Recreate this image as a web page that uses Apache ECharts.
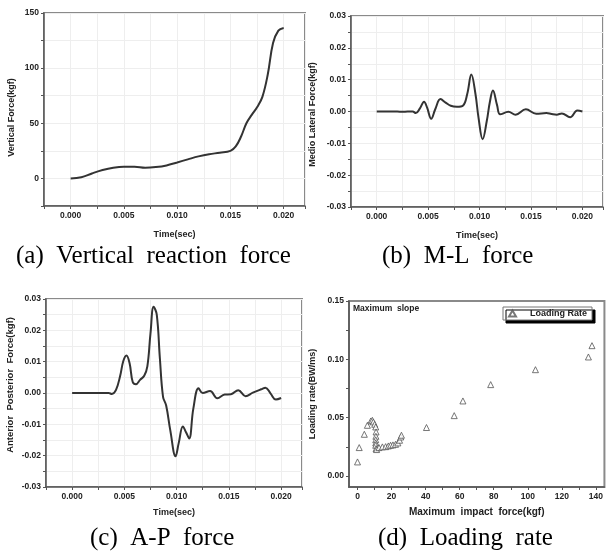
<!DOCTYPE html>
<html><head><meta charset="utf-8">
<script src="https://cdn.jsdelivr.net/npm/echarts@6/dist/echarts.min.js"></script>
<style>html,body{margin:0;padding:0;background:#fff}#c{width:606px;height:558px}</style>
</head><body><div id="c"></div>
<script>
// (a) vertical reaction force
const timeA = [0,0.001,0.002,0.003,0.004,0.005,0.006,0.007,0.008,0.009,0.010,0.011,0.012,0.013,0.014,0.015,0.0155,0.016,0.0165,0.017,0.0175,0.018,0.0185,0.019,0.0195,0.020];
const forceA = [0,1,4.5,7.6,9.7,10.6,10.6,9.7,10.3,11.8,14.5,17.3,20,22,23.3,25,29,38,50,57.6,64.5,74,94,122.7,134,136.4];
// (b) M-L force
const timeB = [0,0.001,0.002,0.0025,0.003,0.0035,0.0038,0.0042,0.0046,0.0049,0.0053,0.0057,0.0062,0.0067,0.0072,0.0078,0.0084,0.0088,0.0092,0.0096,0.0099,0.0103,0.0107,0.011,0.0113,0.0117,0.012,0.0128,0.0135,0.0145,0.0155,0.0165,0.017,0.0175,0.018,0.0188,0.0195,0.020];
const forceB = [0,0,0,-0.0001,0,0,-0.0005,0.001,0.0031,0.0012,-0.0023,0.0008,0.0039,0.0028,0.0018,0.0015,0.0019,0.0055,0.0116,0.0055,-0.002,-0.0087,-0.003,0.003,0.0066,0.002,-0.0009,-0.0001,-0.001,0.0007,-0.0007,-0.0005,-0.0008,-0.001,-0.0006,-0.0018,0.0003,0];
// (c) A-P force
const timeC = [0,0.001,0.002,0.003,0.0035,0.0038,0.0042,0.0046,0.0049,0.0052,0.0055,0.0058,0.0061,0.0065,0.0069,0.0072,0.0075,0.0078,0.0081,0.0084,0.0087,0.009,0.0094,0.0099,0.0102,0.0106,0.0109,0.0112,0.0116,0.0121,0.0125,0.0132,0.0139,0.0146,0.0152,0.0159,0.0166,0.0173,0.0181,0.0185,0.019,0.0195,0.020];
const forceC = [0,0,0,0,0,-0.0003,0.001,0.0055,0.0102,0.012,0.0095,0.0035,0.0028,0.0042,0.0055,0.0085,0.019,0.0275,0.025,0.011,-0.0012,-0.004,-0.012,-0.0202,-0.016,-0.0107,-0.0125,-0.0145,-0.005,0.0015,0,0.0006,-0.0017,-0.0005,-0.0004,0.0009,-0.001,0.0001,0.0012,0.0017,-0.0002,-0.0021,-0.0016];
// (d) loading rate
const impactX = [0,1,4,5.8,7.8,8.7,9.3,10.1,10.7,10.9,10.8,10.7,10.7,10.7,10.9,11.2,12.6,14.6,16.5,18.1,19.4,20.8,22.3,23.7,24.7,25.4,25.8,40.5,56.8,61.9,78.2,104.5,135.6,137.7];
const rateY = [0.012,0.0243,0.0357,0.0434,0.0471,0.0477,0.0463,0.0443,0.042,0.0377,0.034,0.031,0.0283,0.0263,0.0234,0.0226,0.0243,0.0249,0.0251,0.0257,0.0263,0.0266,0.0271,0.0283,0.0306,0.0334,0.0349,0.0415,0.0517,0.0643,0.0783,0.0911,0.102,0.1117];
const impactLabels = [0,20,40,60,80,100,120,140];
const impactTicks = [0,10,20,30,40,50,60,70,80,90,100,110,120,130,140];
const rateLabels = [0,0.05,0.10,0.15];
const rateTicks = [0,0.025,0.05,0.075,0.10,0.125,0.15];
const captions = ['(a)  Vertical  reaction  force','(b)  M-L  force','(c)  A-P  force','(d)  Loading  rate'];

const FONT = 'Liberation Sans, Arial, sans-serif';
const SERIF = '"Liberation Serif", "Times New Roman", serif';
const lblStyle = {color:'#222', fontFamily:FONT, fontWeight:'bold', fontSize:8.5};
const nameStyle = {color:'#222', fontFamily:FONT, fontWeight:'bold', fontSize:9};
const axisLine = {show:true, onZero:false, lineStyle:{color:'#555', width:1.5}};
const tick = {show:true, length:3, lineStyle:{color:'#555'}};
const split = {show:true, lineStyle:{color:'#eeeeee', width:1}};
function isMult(v, step){ const k=v/step; return Math.abs(k-Math.round(k))<1e-6; }

function timeAxis(gi, gap){
  return {type:'value', gridIndex:gi, min:-0.0025, max:0.022, interval:0.0025,
    name:'Time(sec)', nameLocation:'middle', nameGap:gap, nameTextStyle:nameStyle,
    axisLine:axisLine, axisTick:tick, splitLine:split,
    axisLabel:Object.assign({margin:5, formatter:function(v){
      return (v>-1e-9 && v<0.0201 && isMult(v,0.005)) ? v.toFixed(3) : '';}}, lblStyle)};
}
function smallYAxis(gi, name, gap, pad, fs){
  return {type:'value', gridIndex:gi, min:-0.03, max:0.03, interval:0.005,
    name:name, nameLocation:'middle', nameGap:gap,
    nameTextStyle:Object.assign({}, nameStyle, {padding:pad, fontSize:fs}),
    axisLine:axisLine, axisTick:tick, splitLine:split,
    axisLabel:Object.assign({margin:5, formatter:function(v){
      return isMult(v,0.01) ? v.toFixed(2) : '';}}, lblStyle)};
}
const gridBase = {show:true, borderColor:'#8a8a8a', borderWidth:2, backgroundColor:'transparent', containLabel:false};
const capFont = '25px ' + SERIF;

const chart = echarts.init(document.getElementById('c'), null, {renderer:'canvas'});
chart.setOption({
  animation:false,
  backgroundColor:'#fff',
  grid:[
    Object.assign({left:44, top:13, width:261, height:193}, gridBase),
    Object.assign({left:351, top:16, width:253, height:191}, gridBase),
    Object.assign({left:46, top:299, width:256, height:188}, gridBase),
    Object.assign({left:349, top:301, width:257, height:186}, gridBase)
  ],
  xAxis:[
    timeAxis(0,24),
    timeAxis(1,24),
    timeAxis(2,21),
    {type:'value', gridIndex:3, min:-5, max:145,
      name:'Maximum  impact  force(kgf)', nameLocation:'middle', nameGap:20,
      nameTextStyle:Object.assign({}, nameStyle, {fontSize:10}),
      axisLine:axisLine,
      axisTick:Object.assign({customValues:impactTicks}, tick),
      splitLine:{show:false},
      axisLabel:Object.assign({margin:5, customValues:impactLabels, formatter:function(v){return String(Math.round(v));}}, lblStyle)}
  ],
  yAxis:[
    {type:'value', gridIndex:0, min:-25, max:150, interval:25,
      name:'Vertical Force(kgf)', nameLocation:'middle', nameGap:28,
      nameTextStyle:Object.assign({}, nameStyle, {padding:[0,16,0,0]}),
      axisLine:axisLine, axisTick:tick, splitLine:split,
      axisLabel:Object.assign({margin:5, formatter:function(v){
        return (v>=0 && isMult(v,50)) ? String(v) : '';}}, lblStyle)},
    smallYAxis(1,'Medio Lateral Force(kgf)',34,[0,6,0,0],9),
    smallYAxis(2,'Anterior  Posterior  Force(kgf)',31,[0,0,0,16],9.5),
    {type:'value', gridIndex:3, min:-0.0095, max:0.15,
      name:'Loading rate(BW/ms)', nameLocation:'middle', nameGap:32, nameTextStyle:nameStyle,
      axisLine:axisLine,
      axisTick:Object.assign({customValues:rateTicks}, tick),
      splitLine:{show:false},
      axisLabel:Object.assign({margin:5, customValues:rateLabels, formatter:function(v){return v.toFixed(2);}}, lblStyle)}
  ],
  legend:{
    left:503, top:307, orient:'horizontal',
    data:[{name:'Loading Rate', icon:'triangle'}],
    itemWidth:7, itemHeight:6, padding:[2,5,2,5],
    backgroundColor:'#fff', borderColor:'#777', borderWidth:1,
    shadowColor:'#000', shadowBlur:0, shadowOffsetX:3, shadowOffsetY:3,
    textStyle:{color:'#222', fontFamily:FONT, fontWeight:'bold', fontSize:9, padding:[0,0,0,9]}
  },
  graphic:[
    {type:'text', left:353, top:304, style:{text:'Maximum  slope', fill:'#222', font:'bold 8.5px '+FONT}},
    {type:'text', left:16, top:244, style:{text:captions[0], fill:'#000', font:capFont}},
    {type:'text', left:382, top:244, style:{text:captions[1], fill:'#000', font:capFont}},
    {type:'text', left:90, top:526, style:{text:captions[2], fill:'#000', font:capFont}},
    {type:'text', left:378, top:526, style:{text:captions[3], fill:'#000', font:capFont}}
  ],
  series:[
    {type:'line', xAxisIndex:0, yAxisIndex:0, data:timeA.map((t,i)=>[t,forceA[i]]), smooth:0.4, showSymbol:false, lineStyle:{color:'#333', width:2}},
    {type:'line', xAxisIndex:1, yAxisIndex:1, data:timeB.map((t,i)=>[t,forceB[i]]), smooth:0.4, showSymbol:false, lineStyle:{color:'#333', width:2}},
    {type:'line', xAxisIndex:2, yAxisIndex:2, data:timeC.map((t,i)=>[t,forceC[i]]), smooth:0.4, showSymbol:false, lineStyle:{color:'#333', width:2}},
    {type:'scatter', name:'Loading Rate', xAxisIndex:3, yAxisIndex:3, data:impactX.map((x,i)=>[x,rateY[i]]),
      symbol:'triangle', symbolSize:6, itemStyle:{color:'#fff', borderColor:'#555', borderWidth:1}}
  ]
});
</script></body></html>
